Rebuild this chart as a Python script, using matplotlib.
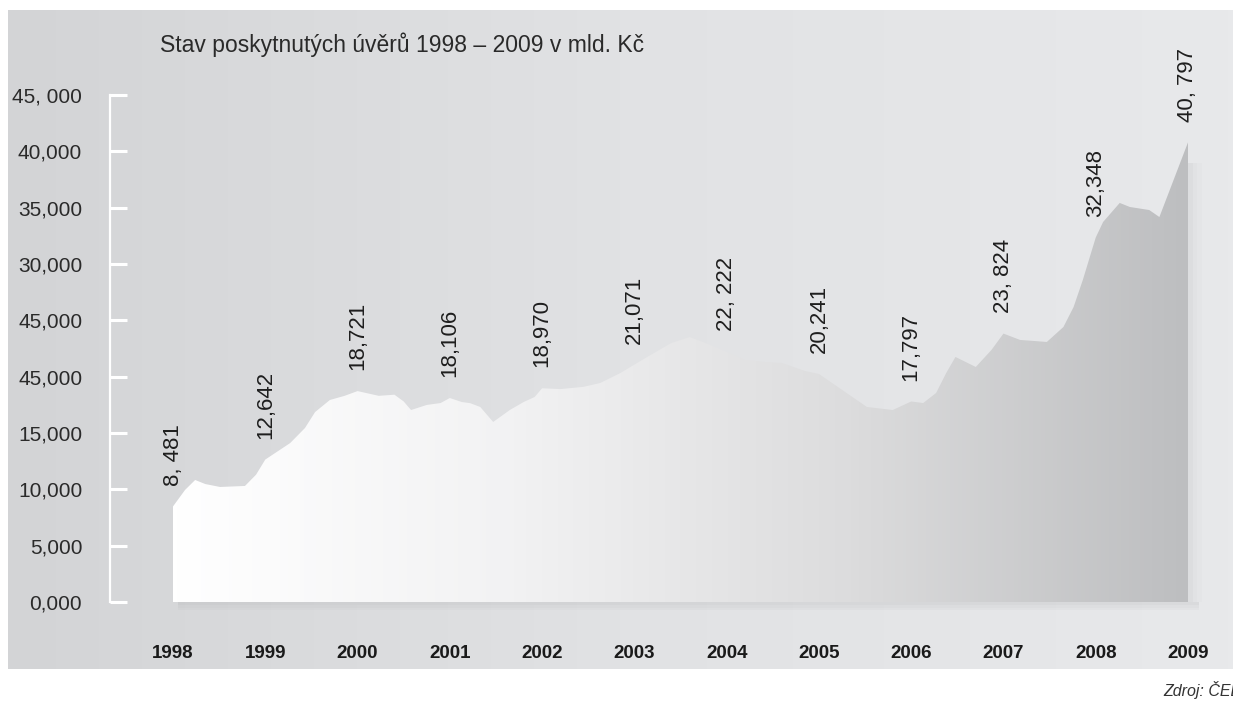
import numpy as np
import matplotlib.pyplot as plt
from matplotlib.colors import LinearSegmentedColormap

# stav poskytnutých úvěrů, mld. Kč
years = list(range(1998, 2010))
year_values = [8481, 12642, 18721, 18106, 18970, 21071,
               22222, 20241, 17797, 23824, 32348, 40797]
# labels with a space after the comma
spaced = [1, 0, 0, 0, 0, 0, 1, 0, 0, 1, 0, 1]

# in-between readings
t_mid = [1998.13, 1998.24, 1998.35, 1998.51, 1998.78, 1998.90,
         1999.27, 1999.43, 1999.54, 1999.70, 1999.86,
         2000.23, 2000.40, 2000.50, 2000.58, 2000.75, 2000.90,
         2001.13, 2001.22, 2001.33, 2001.47, 2001.65, 2001.80, 2001.92,
         2002.20, 2002.45, 2002.63, 2002.85,
         2003.14, 2003.40, 2003.60, 2003.80,
         2004.20, 2004.42, 2004.60, 2004.85,
         2005.30, 2005.52, 2005.80,
         2006.13, 2006.27, 2006.38, 2006.48, 2006.70, 2006.87,
         2007.18, 2007.47, 2007.65, 2007.76, 2007.86,
         2008.08, 2008.26, 2008.37, 2008.58, 2008.69]
credit_mid = [9940, 10830, 10470, 10210, 10300, 11300,
              14110, 15440, 16860, 17930, 18300,
              18300, 18400, 17800, 17040, 17490, 17660,
              17750, 17650, 17310, 15980, 17040, 17750, 18200,
              18900, 19100, 19440, 20330,
              21750, 22990, 23520, 22900,
              21480, 21300, 21210, 20500,
              18550, 17310, 17040,
              17660, 18550, 20330, 21750, 20860, 22370,
              23260, 23080, 24410, 26180, 28580,
              33730, 35420, 35060, 34790, 34170]

ytick_vals = [0, 5000, 10000, 15000, 20000, 25000, 30000, 35000, 40000, 45000]
ytick_labels = ['0,000', '5,000', '10,000', '15,000', '45,000', '45,000',
                '30,000', '35,000', '40,000', '45, 000']

t = np.array(years + t_mid, dtype=float)
v = np.array(year_values + credit_mid, dtype=float)
order = np.argsort(t)
t, v = t[order], v[order]

W, H = 1233, 706
fig = plt.figure(figsize=(W / 100, H / 100), dpi=100)
fig.patch.set_facecolor('white')

sans = ['Liberation Sans', 'DejaVu Sans']

# grey panel behind everything
bg = fig.add_axes([8 / W, (H - 669) / H, (W - 8) / W, (669 - 10) / H])
bg_cmap = LinearSegmentedColormap.from_list('bg', ['#d3d4d6', '#e1e2e4', '#e8e9eb'])
bg.imshow(np.linspace(0, 1, 256)[None, :], aspect='auto', cmap=bg_cmap,
          extent=[0, 1, 0, 1])
bg.set_axis_off()

ax = fig.add_axes([110 / W, (H - 602) / H, (1228 - 110) / W, (602 - 95) / H])
ax.patch.set_alpha(0)
px_per_year = (1188 - 173) / 11
x0 = 1998 - (173 - 110) / px_per_year
x1 = 2009 + (1228 - 1188) / px_per_year

# soft shadow under and right of the area
for k, a in enumerate([0.22, 0.14, 0.07]):
    ax.fill_between([1998.05, 2009.12], -250 * (k + 1), -250 * k, color='#a8a9ab',
                    alpha=a, lw=0, clip_on=False, zorder=1)
for k, a in enumerate([0.16, 0.09, 0.04]):
    ax.fill_between([2009 + 0.05 * k, 2009 + 0.05 * (k + 1)], 0, 39000,
                    color='#a8a9ab', alpha=a, lw=0, zorder=1)

# area with white-to-grey gradient
poly = ax.fill_between(t, 0, v, color='none', lw=0, zorder=2)
area_cmap = LinearSegmentedColormap.from_list('area', ['#ffffff', '#f2f2f3', '#dcdcdd', '#bdbec0'])
img = ax.imshow(np.linspace(0, 1, 256)[None, :], aspect='auto', cmap=area_cmap,
                extent=[1998, 2009, 0, 45000], origin='lower', zorder=3)
img.set_clip_path(poly.get_paths()[0], transform=ax.transData)
ax.set_xlim(x0, x1)
ax.set_ylim(0, 45000)

# value labels above each year
for yr, val, sp in zip(years, year_values, spaced):
    txt = f"{val // 1000},{' ' if sp else ''}{val % 1000:03d}"
    ax.annotate(txt, (yr, val), xytext=(0, 15), textcoords='offset points',
                rotation=90, ha='center', va='bottom', fontsize=16,
                family=sans, color='#1e1e1e', zorder=5)

for s in ['top', 'right', 'bottom']:
    ax.spines[s].set_visible(False)
ax.spines['left'].set_color('white')
ax.spines['left'].set_linewidth(1.6)

ax.set_yticks(ytick_vals)
ax.set_yticklabels(ytick_labels, family=sans, fontsize=15, color='#2a2a2a')
ax.tick_params(axis='y', direction='in', length=12, width=2.2, color='white', pad=20)

ax.set_xticks(years)
ax.set_xticklabels([str(y) for y in years], family=sans, fontsize=13.5,
                   fontweight='bold', color='#1a1a1a')
ax.tick_params(axis='x', length=0, pad=31)

fig.text(160 / W, 1 - 45 / H, 'Stav poskytnutých úvěrů 1998 – 2009 v mld. Kč',
         family=sans, fontsize=16.5, color='#2a2a2a', va='center', ha='left')
fig.text(1163 / W, 1 - 690 / H, 'Zdroj: ČEE', family=sans, fontsize=11.5,
         style='italic', color='#333333', va='center', ha='left')

fig.savefig('out.png', dpi=100)
